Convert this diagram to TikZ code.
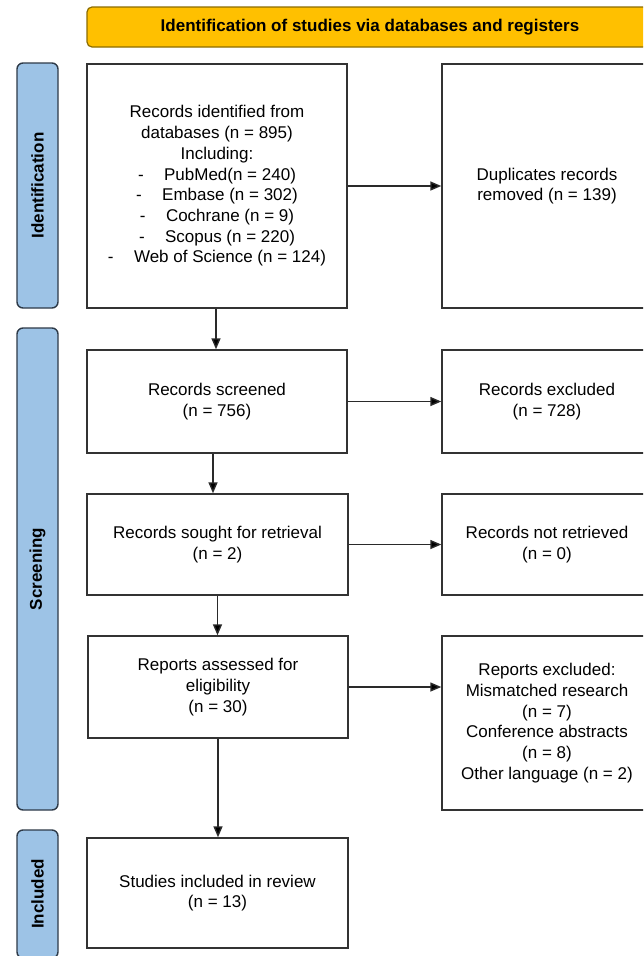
\documentclass[tikz,border=0pt]{standalone}
\usepackage{fontspec}
\setmainfont{Liberation Sans}
\usepackage{xcolor}
\usepackage{tikz}
\usetikzlibrary{positioning, arrows.meta, calc}
\definecolor{prismagold}{HTML}{FFC000}
\definecolor{golddark}{HTML}{8C6D00}
\definecolor{sideblue}{HTML}{9DC3E6}
\definecolor{sidedark}{HTML}{2E3A48}
\definecolor{boxline}{HTML}{333333}
\definecolor{arrowgray}{HTML}{2A2A2A}

\tikzset{
  base/.style={font={\fontsize{17}{20.7}\selectfont}, align=center, inner sep=0pt},
  stagebox/.style={base, draw=boxline, line width=1.4pt, fill=white},
  phase/.style={base, font={\fontsize{17}{20.7}\selectfont\bfseries}, draw=sidedark, fill=sideblue,
                line width=1.4pt, rounded corners=6pt, rotate=90, minimum height=41pt},
  flow/.style={draw=arrowgray, line width=1.4pt, -{Triangle[length=11pt, width=9pt, fill=black]}}
}

\begin{document}
\begin{tikzpicture}[x=1pt, y=-1pt]
    \useasboundingbox (0,0) rectangle (643,956);
    \fill[white] (0,0) rectangle (643,956);
    \clip (0,0) rectangle (643,956);

    % banner on top
    \node[base, font={\fontsize{17}{20.7}\selectfont\bfseries}, fill=prismagold, draw=golddark,
          line width=1.2pt, rounded corners=5pt, minimum width=566pt, minimum height=40pt]
          (banner) at (370,27) {Identification of studies via databases and registers};

    % phases on the left
    \node[phase, minimum width=245pt] (idphase) at (37.5,185.5) {Identification};
    \node[phase, minimum width=482pt] (scphase) at (37.5,569) {Screening};
    \node[phase, minimum width=128pt] (inphase) at (37.5,894) {Included};

    % left column
    \node[stagebox, minimum width=260pt, minimum height=244pt] (found) at (217,186) {%
      Records identified from\\
      databases (n = 895)\\
      Including:\\
      -\hspace{1.2em}PubMed(n = 240)\\
      -\hspace{1.2em}Embase (n = 302)\\
      -\hspace{1.2em}Cochrane (n = 9)\\
      -\hspace{1.2em}Scopus (n = 220)\\
      -\hspace{1.2em}Web of Science (n = 124)};
    \node[stagebox, minimum width=260pt, minimum height=103pt] (screened) at (217,401.5)
      {Records screened\\(n = 756)};
    \node[stagebox, minimum width=261pt, minimum height=101pt] (sought) at (217.5,544.5)
      {Records sought for retrieval\\(n = 2)};
    \node[stagebox, minimum width=260pt, minimum height=102pt] (assessed) at (218,687)
      {Reports assessed for\\eligibility\\(n = 30)};
    \node[stagebox, minimum width=261pt, minimum height=110pt] (included) at (217.5,893)
      {Studies included in review\\(n = 13)};

    % right column
    \node[stagebox, minimum width=210pt, minimum height=244pt] (dupes) at (547,186)
      {Duplicates records\\removed (n = 139)};
    \node[stagebox, minimum width=210pt, minimum height=103pt] (excl) at (547,401.5)
      {Records excluded\\(n = 728)};
    \node[stagebox, minimum width=210pt, minimum height=101pt] (notret) at (547,544.5)
      {Records not retrieved\\(n = 0)};
    \node[stagebox, minimum width=210pt, minimum height=174pt] (repexcl) at (547,723)
      {Reports excluded:\\Mismatched research\\(n = 7)\\Conference abstracts\\(n = 8)\\Other language (n = 2)};

    % connectors
    \draw[flow] ([xshift=-1pt]found.south) -- ([xshift=-1pt]found.south |- screened.north);
    \draw[flow] ([xshift=-4pt]screened.south) -- ([xshift=-4pt]screened.south |- sought.north);
    \draw[flow] (sought.south) -- (sought.south |- assessed.north);
    \draw[flow] (assessed.south) -- (assessed.south |- included.north);
    \draw[flow] (found.east) -- (dupes.west);
    \draw[flow] (screened.east) -- (excl.west);
    \draw[flow] (sought.east) -- (notret.west);
    \draw[flow] (assessed.east) -- (assessed.east -| repexcl.west);
\end{tikzpicture}
\end{document}
